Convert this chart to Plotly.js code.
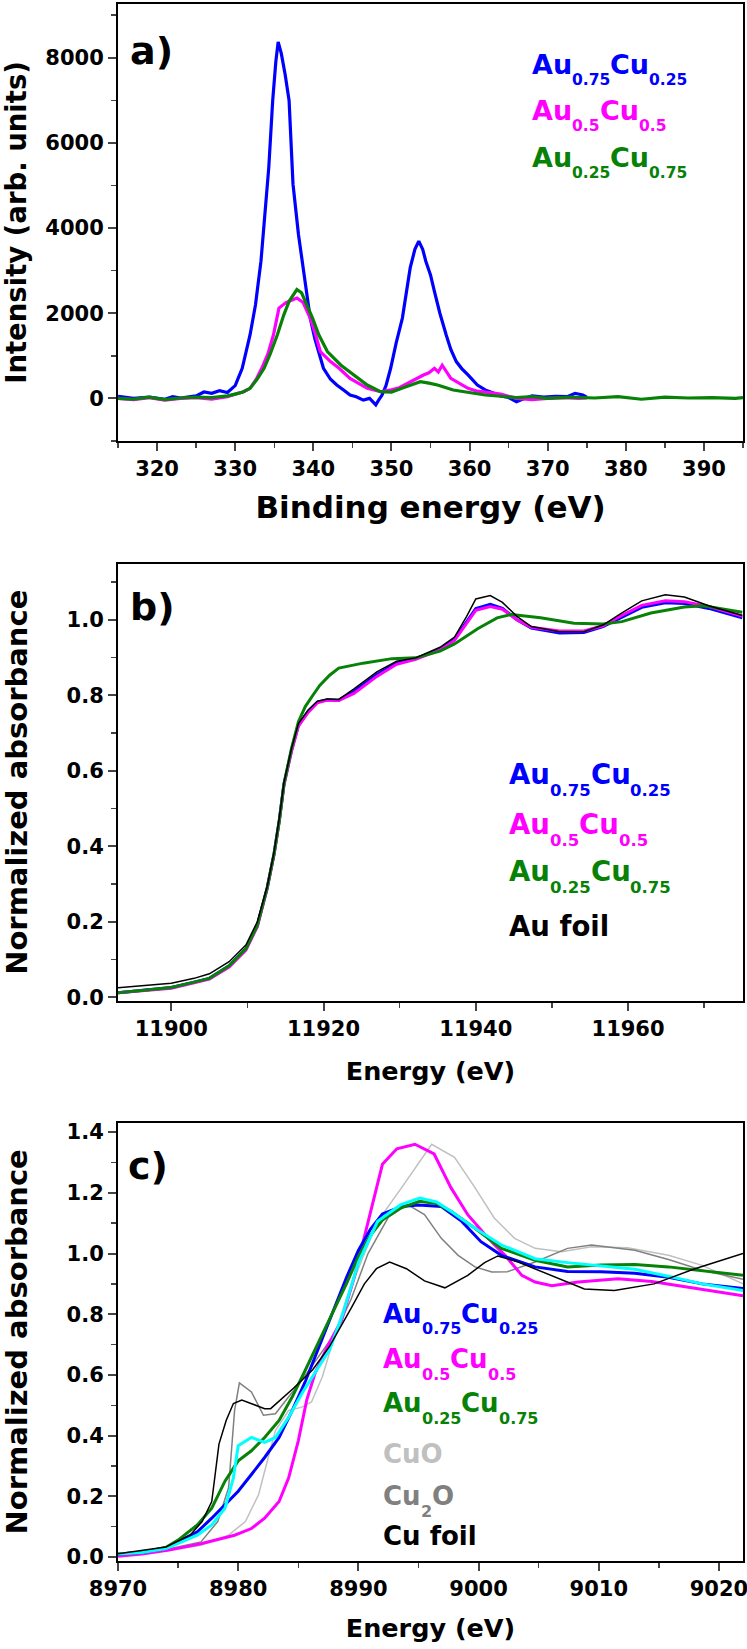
<!DOCTYPE html>
<html>
<head>
<meta charset="utf-8">
<script src="https://cdn.plot.ly/plotly-3.0.1.min.js"></script>
<style>
html,body{margin:0;padding:0;background:#fff;}
#chart{width:747px;height:1649px;}
</style>
</head>
<body>
<div id="chart"></div>
<script>
// ---------- Panel a: XPS Au 4f ----------
const aBlueX = [315,317,319,321,322,323,325,326,327,328,329,330,330.9,331.9,332.6,333.3,334.3,334.8,335.2,335.5,335.9,336.4,336.9,337.4,338.1,339.0,339.6,340.2,340.7,341.3,342.2,343.0,344.0,344.7,345.5,346.4,347.2,348.0,348.3,348.8,349.3,349.9,350.6,351.4,352.4,353.0,353.5,354.0,354.4,355.0,355.5,356.2,357.0,357.6,358.3,359.0,359.8,361.0,362.0,363.0,364.0,365.0,366.0,367.0,368.0,369.5,371.0,372.5,373.5,374.5,375];
const aBlueY = [50,0,30,-20,40,10,60,150,120,180,140,300,707,1490,2200,3222,5421,6993,7900,8370,8100,7600,6993,5030,3850,2670,1886,1400,1100,707,450,314,180,78,40,-40,0,-150,-60,78,300,707,1300,1886,3064,3500,3693,3500,3222,2900,2515,2000,1494,1150,864,700,550,314,200,120,60,20,-80,0,60,30,50,40,120,80,30];
const aMagX = [315,317,319,321,323,325,327,329,330,331,331.9,332.7,333.4,334.2,334.9,335.6,336.5,337.2,337.9,338.7,339.6,340.3,340.9,342.2,343.3,344.7,346.0,346.9,348.6,350,351,352,353,354.1,354.8,355.5,356,356.5,357.6,358.7,359.8,361,362,364,366,368,370,372,374,375];
const aMagY = [0,-30,20,-40,0,20,-20,40,100,150,236,450,707,1050,1494,2120,2250,2300,2357,2250,1886,1494,1100,864,707,471,320,236,157,200,250,350,450,550,600,707,620,780,471,350,236,170,150,100,0,-30,0,20,0,10];
const aGreenX = [315,317,319,321,323,325,327,329,330,331,331.9,332.8,333.7,334.5,335.4,336.2,336.9,337.5,337.9,338.5,339.2,339.9,340.7,341.8,343.5,345.2,346.9,348.6,350,351.5,352.7,353.7,354.8,355.9,357.9,360.6,362,364,366,368,370,373,376,379,382,385,388,391,394,395];
const aGreenY = [0,-20,30,-30,10,30,20,60,100,150,236,450,707,1050,1494,1950,2279,2450,2555,2480,2200,1886,1494,1100,786,550,314,157,150,250,330,393,360,314,196,118,80,50,20,40,0,30,10,40,-20,30,10,20,0,20];

// ---------- Panel b: Au L3-edge XANES ----------
const bX = [11893,11896,11900,11903,11905,11907.6,11909.8,11911.3,11912.6,11913.5,11914.2,11914.8,11915.8,11916.7,11918,11919.2,11920.5,11922,11924,11927,11929.6,11932.1,11935.3,11937.2,11938.8,11940,11941.9,11943.5,11945.4,11947.3,11951,11954.2,11956.7,11959.2,11961.8,11964.9,11967.4,11970.6,11975];
const bFoilY = [0.025,0.03,0.037,0.05,0.062,0.094,0.138,0.2,0.294,0.385,0.477,0.569,0.66,0.725,0.761,0.784,0.79,0.789,0.817,0.862,0.89,0.899,0.927,0.954,1.009,1.055,1.064,1.046,1.009,0.982,0.968,0.968,0.986,1.018,1.05,1.066,1.06,1.037,1.011];
const bBlueY = [0.012,0.018,0.026,0.04,0.05,0.083,0.128,0.19,0.29,0.38,0.47,0.565,0.655,0.72,0.758,0.782,0.788,0.787,0.81,0.855,0.885,0.897,0.922,0.948,0.995,1.03,1.041,1.03,1.0,0.978,0.965,0.966,0.982,1.008,1.033,1.045,1.043,1.03,1.005];
const bMagY = [0.012,0.017,0.024,0.038,0.048,0.08,0.125,0.187,0.288,0.378,0.468,0.562,0.652,0.718,0.755,0.78,0.787,0.786,0.805,0.85,0.882,0.895,0.92,0.945,0.99,1.025,1.035,1.028,1.0,0.98,0.97,0.97,0.984,1.012,1.038,1.05,1.048,1.035,1.01];
const bGreenX = [11893,11896,11900,11903,11905,11907.6,11909.8,11911.3,11912.6,11913.5,11914.2,11914.8,11915.8,11916.7,11917.6,11918.6,11919.5,11920.8,11922,11925.2,11929,11932.1,11935.3,11937.2,11940.3,11942.8,11944.7,11948.5,11952.9,11956.7,11959.2,11963,11967.4,11969.9,11975];
const bGreenY = [0.012,0.018,0.026,0.04,0.05,0.083,0.128,0.19,0.29,0.38,0.47,0.565,0.66,0.73,0.77,0.80,0.826,0.853,0.872,0.885,0.897,0.899,0.917,0.936,0.977,1.005,1.014,1.005,0.991,0.989,0.995,1.018,1.034,1.037,1.02];

// ---------- Panel c: Cu K-edge XANES ----------
const cBlueX = [8970,8972,8974,8975,8976.6,8977.8,8978.9,8980,8981.1,8982.2,8983.4,8984.5,8985.6,8986.7,8987.8,8989,8990,8991,8992,8993.6,8995,8996.9,8998.6,9000.2,9001.9,9004.7,9007.4,9010.2,9013,9015.8,9018.6,9022];
const cBlueY = [0.01,0.015,0.03,0.05,0.083,0.128,0.172,0.217,0.272,0.328,0.394,0.483,0.58,0.69,0.8,0.92,1.01,1.08,1.13,1.155,1.16,1.155,1.106,1.039,0.994,0.956,0.941,0.94,0.935,0.922,0.9,0.885];
const cGreenX = [8970,8972,8974,8975,8976.6,8977.8,8978.9,8980,8981.1,8982.2,8983.4,8984.5,8985.6,8986.7,8987.8,8989,8990,8991,8992,8993.5,8995.1,8996.5,8997.7,8999.7,9001.9,9004.7,9007.4,9010.2,9013,9015.8,9018.6,9022];
const cGreenY = [0.01,0.015,0.032,0.056,0.106,0.161,0.25,0.317,0.35,0.394,0.45,0.528,0.617,0.706,0.8,0.9,0.99,1.06,1.11,1.15,1.172,1.165,1.139,1.083,1.017,0.978,0.956,0.962,0.964,0.956,0.944,0.928];
const cCyanX = [8970,8972,8974,8975,8976.6,8977.8,8978.9,8979.6,8980,8981.1,8982.2,8983.1,8984.2,8985.3,8986.4,8987.6,8988.7,8990,8991.6,8993.5,8995.1,8996.5,8997.7,8999.7,9001.9,9004.7,9007.4,9010.2,9013,9015.8,9018.6,9022];
const cCyanY = [0.01,0.015,0.028,0.044,0.072,0.106,0.161,0.261,0.367,0.394,0.378,0.394,0.461,0.539,0.606,0.683,0.8,0.97,1.106,1.16,1.183,1.17,1.139,1.083,1.028,0.983,0.97,0.96,0.948,0.925,0.9,0.878];
const cMagX = [8970,8972,8974.1,8976.9,8979.7,8981.1,8982.2,8983.4,8984.2,8985,8985.7,8986.4,8987.5,8988.6,8989.7,8990.8,8992,8993.2,8994.7,8996.3,8997.7,8999.1,9000.8,9002.2,9003.6,9004.7,9006.1,9008.3,9011.6,9014.4,9017.2,9022];
const cMagY = [0.003,0.01,0.022,0.044,0.072,0.094,0.128,0.183,0.261,0.383,0.517,0.606,0.7,0.78,0.928,1.106,1.294,1.345,1.36,1.328,1.217,1.128,1.05,0.994,0.928,0.906,0.894,0.906,0.917,0.908,0.89,0.861];
const cCuOX = [8970,8974,8976.9,8979.2,8980.6,8981.7,8982.5,8983.1,8984.2,8985.3,8986.1,8987,8988.1,8989,8990.3,8991.6,8993.6,8996.1,8998,8999.7,9001.3,9003,9004.7,9006.9,9009.4,9012.4,9015.8,9018.6,9022];
const cCuOY = [0.008,0.02,0.039,0.072,0.117,0.206,0.328,0.417,0.483,0.494,0.511,0.594,0.739,0.85,0.98,1.106,1.217,1.36,1.317,1.217,1.117,1.05,1.017,1.006,1.022,1.019,0.994,0.961,0.9];
const cCu2OX = [8970,8974,8976.9,8978.3,8979.2,8979.7,8980.1,8981.1,8982.1,8983.1,8984.2,8985.3,8986.7,8988.1,8989.4,8990.8,8992.5,8994.1,8995.5,8996.9,8998.3,8999.7,9001.1,9002.4,9004.7,9007.4,9009.4,9013,9015.8,9018.6,9022];
const cCu2OY = [0.01,0.025,0.05,0.117,0.228,0.483,0.574,0.544,0.467,0.472,0.528,0.583,0.661,0.739,0.85,1.0,1.12,1.161,1.128,1.05,0.994,0.956,0.939,0.94,0.972,1.017,1.028,1.011,0.98,0.945,0.915];
const cFoilX = [8970,8974,8976,8977,8977.8,8978.4,8979,8979.6,8980.3,8981,8982.2,8982.7,8983.5,8984.6,8986.2,8987.6,8989.4,8990.5,8991.5,8992.6,8994,8995.5,8997.2,8999.1,9000.5,9001.6,9003.3,9006.1,9008.8,9011.3,9014.6,9018,9022];
const cFoilY = [0.011,0.033,0.072,0.117,0.183,0.372,0.45,0.506,0.517,0.506,0.489,0.489,0.517,0.556,0.617,0.694,0.82,0.9,0.95,0.972,0.95,0.91,0.887,0.928,0.97,0.992,0.972,0.928,0.883,0.878,0.9,0.95,1.0];

// labels
const labA = ['Au<sub>0.75</sub>Cu<sub>0.25</sub>','Au<sub>0.5</sub>Cu<sub>0.5</sub>','Au<sub>0.25</sub>Cu<sub>0.75</sub>'];
const labB = labA.concat(['Au foil']);
const labC = labA.concat(['CuO','Cu<sub>2</sub>O','Cu foil']);

const BLUE='#0000ff', MAG='#ff00ff', GREEN='#078207', CYAN='#00ffff', LGRAY='#c0c0c0', DGRAY='#808080', BLACK='#000000';
const FONT = 'DejaVu Sans, sans-serif';
const W=747, H=1649;
const px = x => x/W;
const py = y => 1 - y/H;

function tr(x,y,color,width,xa,ya){
  return {x:x,y:y,type:'scatter',mode:'lines',line:{color:color,width:width},xaxis:xa,yaxis:ya,showlegend:false,hoverinfo:'skip'};
}
const data = [
  tr(aBlueX,aBlueY,BLUE,3.2,'x','y'),
  tr(aMagX,aMagY,MAG,3.2,'x','y'),
  tr(aGreenX,aGreenY,GREEN,3.2,'x','y'),
  tr(bX,bBlueY,BLUE,3,'x2','y2'),
  tr(bX,bMagY,MAG,3,'x2','y2'),
  tr(bGreenX,bGreenY,GREEN,3,'x2','y2'),
  tr(bX,bFoilY,BLACK,1.5,'x2','y2'),
  tr(cCuOX,cCuOY,LGRAY,1.5,'x3','y3'),
  tr(cCu2OX,cCu2OY,DGRAY,1.5,'x3','y3'),
  tr(cMagX,cMagY,MAG,3,'x3','y3'),
  tr(cBlueX,cBlueY,BLUE,3,'x3','y3'),
  tr(cGreenX,cGreenY,GREEN,3,'x3','y3'),
  tr(cCyanX,cCyanY,CYAN,3,'x3','y3'),
  tr(cFoilX,cFoilY,BLACK,1.5,'x3','y3')
];

const tickfont = {family:FONT,size:21,color:'#000',weight:'bold'};
function xax(range, dtick, tick0, minor, title, tsize, standoff, anchor){
  return {domain:[px(118),px(743)], range:range, dtick:dtick, tick0:tick0, anchor:anchor, tickformat:'d',
    ticklabeloverflow:'allow',
    showline:true, mirror:true, linecolor:'#000', linewidth:2, ticks:'outside', ticklen:8, tickwidth:2,
    minor:{ticks:'outside',ticklen:5,tickwidth:1.5,dtick:minor,tick0:tick0}, showgrid:false, zeroline:false,
    tickfont:tickfont, title:{text:title,font:{family:FONT,size:tsize,color:'#000',weight:'bold'},standoff:standoff}};
}
function yax(domain, range, dtick, minor, fmt, title, tsize, standoff, anchor){
  return {domain:domain, range:range, dtick:dtick, tick0:0, anchor:anchor, tickformat:fmt,
    showline:true, mirror:true, linecolor:'#000', linewidth:2, ticks:'outside', ticklen:8, tickwidth:2,
    minor:{ticks:'outside',ticklen:5,tickwidth:1.5,dtick:minor,tick0:0}, showgrid:false, zeroline:false,
    tickfont:tickfont, title:{text:title,font:{family:FONT,size:tsize,color:'#000',weight:'bold'},standoff:standoff}};
}

const layout = {
  width:W, height:H, margin:{l:0,r:0,t:0,b:0}, paper_bgcolor:'#fff', plot_bgcolor:'#fff', showlegend:false,
  xaxis: xax([315,395],10,320,5,'Binding energy (eV)',31,16,'y'),
  yaxis: yax([py(441),py(4)],[-1000,9260],2000,1000,'d','Intensity (arb. units)',27.5,14,'x'),
  xaxis2: xax([11893,11975.1],20,11900,10,'Energy (eV)',25.5,22,'y2'),
  yaxis2: yax([py(1001),py(563.5)],[-0.01,1.149],0.2,0.1,'.1f','Normalized absorbance',29,36,'x2'),
  xaxis3: xax([8970,9022],10,8970,5,'Energy (eV)',25.5,19,'y3'),
  yaxis3: yax([py(1560.7),py(1123)],[-0.012,1.43],0.2,0.1,'.1f','Normalized absorbance',29,36,'x3'),
  annotations: []
};

const cv = document.createElement('canvas').getContext('2d');
function piece(t,x,yc,color,size){
  layout.annotations.push({text:'<b>'+t+'</b>',xref:'paper',yref:'paper',x:px(x),y:py(yc),xanchor:'left',yanchor:'middle',
    borderpad:0,showarrow:false,font:{family:FONT,size:size,color:color}});
  cv.font = 'bold '+size+'px "DejaVu Sans"';
  return cv.measureText(t).width;
}
// draw a label with subscripts as separate text pieces, given left x and baseline y (pixels)
function label(str,x0,base,color,S,s,dsub){
  const parts = str.split(/(<sub>.*?<\/sub>)/).filter(p=>p.length);
  let x = x0;
  parts.forEach(p=>{
    if(p.startsWith('<sub>')){
      const t = p.slice(5,-6);
      x += piece(t,x,base+dsub-0.346*s,color,s);
    } else {
      x += piece(p,x,base-0.346*S,color,S);
    }
  });
}
label('a)',129,64,BLACK,38,0,0);
label('b)',129,620,BLACK,38,0,0);
label('c)',127,1179,BLACK,38,0,0);
const colA=[BLUE,MAG,GREEN];
const baseA=[73.6,120.2,167];
labA.forEach((t,i)=>label(t,531,baseA[i],colA[i],27,15.5,11.5));
const colB=[BLUE,MAG,GREEN,BLACK];
const baseB=[784,834,881,936];
labB.forEach((t,i)=>label(t,508,baseB[i],colB[i],27.5,16.5,12));
const colC=[BLUE,MAG,GREEN,LGRAY,DGRAY,BLACK];
const baseC=[1322.5,1368,1412,1463,1505,1545];
labC.forEach((t,i)=>label(t,382,baseC[i],colC[i],26,16,12));

Plotly.newPlot('chart',data,layout,{staticPlot:true,displayModeBar:false});
</script>
</body>
</html>
